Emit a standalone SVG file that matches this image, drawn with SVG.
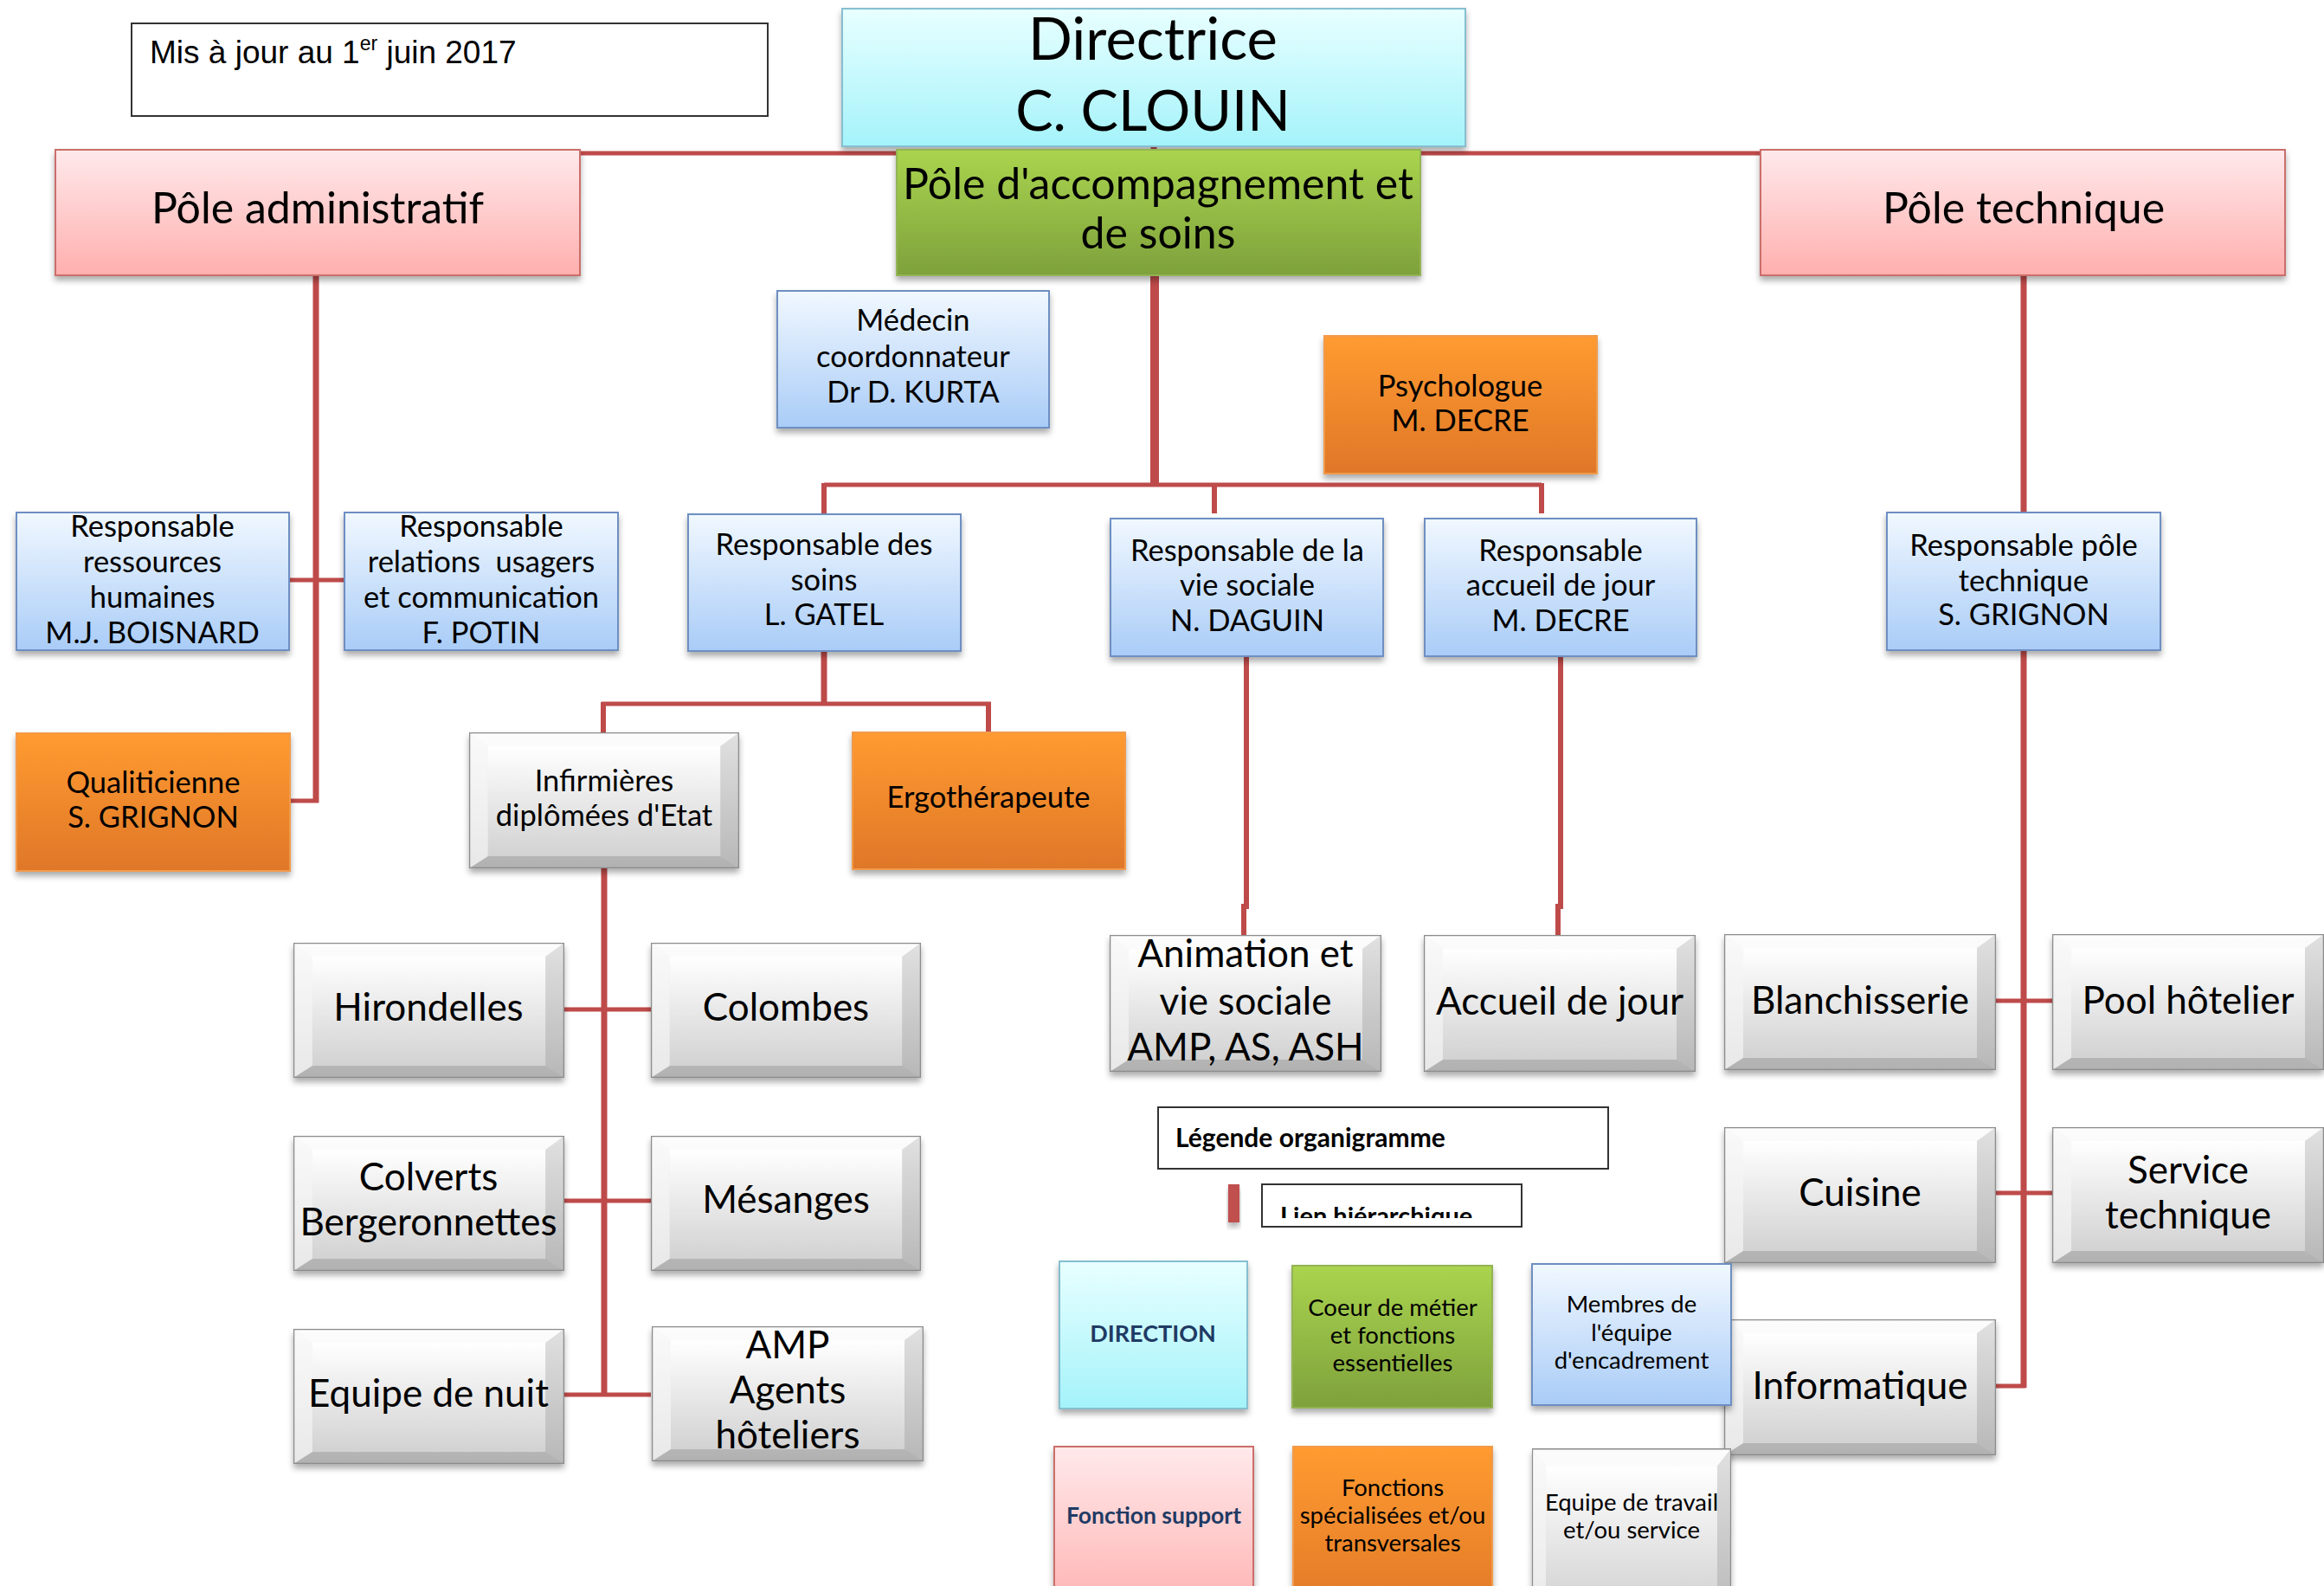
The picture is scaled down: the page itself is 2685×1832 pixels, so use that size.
<svg xmlns="http://www.w3.org/2000/svg" xmlns:xlink="http://www.w3.org/1999/xlink" width="2685" height="1832" viewBox="0 0 2685 1832">
<style>
.t{font-family:Lato,"Open Sans","Noto Sans",sans-serif;fill:#000;text-anchor:middle}
.l{text-anchor:start}
.b{font-weight:bold}
.f67{font-size:67px}
.f48{font-size:50px}
.f44{font-size:44px}
.f34{font-size:34.5px}
.f27{font-size:27.5px}
.f29{font-size:30px}
.navy{fill:#1F3A64}
.pink{fill:url(#gPink);stroke:#CC6E6B;stroke-width:2;filter:url(#sh)}
.cyan{fill:url(#gCyan);stroke:#86BFD0;stroke-width:2;filter:url(#sh)}
.green{fill:url(#gGreen);stroke:#93B455;stroke-width:2;filter:url(#sh)}
.blue{fill:url(#gBlue);stroke:#6E8FC2;stroke-width:2;filter:url(#sh)}
.orange{fill:url(#gOrange);stroke:#F29A48;stroke-width:2;filter:url(#sh)}
.plain{fill:#fff;stroke:#333;stroke-width:2}
.bev{filter:url(#sh)}
.h{fill:none;stroke:#BE4B4A;stroke-width:5}
.v{fill:none;stroke:#BE4B4A;stroke-width:7}
</style>
<defs>
<filter id="sh" x="-10%" y="-10%" width="120%" height="130%">
<feDropShadow dx="0" dy="5" stdDeviation="3.5" flood-color="#000" flood-opacity="0.33"/>
</filter>
<linearGradient id="gPink" x1="0" y1="0" x2="0" y2="1"><stop offset="0" stop-color="#FFE9EB"/><stop offset="1" stop-color="#FFAFAE"/></linearGradient>
<linearGradient id="gCyan" x1="0" y1="0" x2="0" y2="1"><stop offset="0" stop-color="#E8FFFF"/><stop offset="1" stop-color="#A4F3FA"/></linearGradient>
<linearGradient id="gGreen" x1="0" y1="0" x2="0" y2="1"><stop offset="0" stop-color="#AAD44E"/><stop offset="1" stop-color="#7EA13C"/></linearGradient>
<linearGradient id="gBlue" x1="0" y1="0" x2="0" y2="1"><stop offset="0" stop-color="#F1F8FF"/><stop offset="1" stop-color="#A9CCF7"/></linearGradient>
<linearGradient id="gOrange" x1="0" y1="0" x2="0" y2="1"><stop offset="0" stop-color="#FF9B30"/><stop offset="1" stop-color="#DF7729"/></linearGradient>
<linearGradient id="gFace" x1="0" y1="0" x2="0" y2="1"><stop offset="0" stop-color="#FFFFFF"/><stop offset="1" stop-color="#D2D2D2"/></linearGradient>
<linearGradient id="gOuter" x1="0" y1="0" x2="0" y2="1"><stop offset="0" stop-color="#F2F2F2"/><stop offset="1" stop-color="#C6C6C6"/></linearGradient>
<symbol id="bevel" viewBox="0 0 314 157" preserveAspectRatio="none">
<rect x="0" y="0" width="314" height="157" fill="url(#gOuter)"/>
<polygon points="0,0 314,0 292,16 22,16" fill="#FFFFFF" opacity="0.75"/>
<polygon points="0,0 22,16 22,143 0,157" fill="#FFFFFF" opacity="0.6"/>
<polygon points="314,0 292,16 292,143 314,157" fill="#000" opacity="0.07"/>
<polygon points="0,157 22,143 292,143 314,157" fill="#000" opacity="0.1"/>
<rect x="22" y="16" width="270" height="127" fill="url(#gFace)"/>
<rect x="0.5" y="0.5" width="313" height="156" fill="none" stroke="#8C8C8C" stroke-width="1.5" vector-effect="non-scaling-stroke"/>
</symbol>
<clipPath id="clipLien"><rect x="1458" y="1368" width="300" height="39"/></clipPath>
</defs>
<rect x="0" y="0" width="2685" height="1832" fill="#fff"/>

<g id="connectors">
<path class="h" d="M669 177 H2034"/>
<path class="v" d="M1333 169 V175"/>
<path class="v" style="stroke-width:10" d="M1334 318 V560"/>
<path class="h" d="M952 560 H1781"/>
<path class="v" style="stroke-width:6" d="M952 558 V594 M1403 558 V593 M1781 558 V593"/>
<path class="v" d="M365 318 V927"/>
<path class="h" d="M334 670 H398 M334 925 H368"/>
<path class="v" d="M952 752 V815"/>
<path class="h" d="M695 813 H1145"/>
<path class="v" style="stroke-width:6" d="M697 811 V846 M1142 811 V846"/>
<path class="v" d="M698 1003 V1613"/>
<path class="h" d="M652 1166 H752 M652 1387 H752 M652 1611 H752"/>
<path class="v" style="stroke-width:6" d="M1440 758 V1047 H1437 V1080 M1803 758 V1047 H1800 V1080"/>
<path class="v" d="M2338 318 V592 M2338 751 V1603"/>
<path class="h" d="M2306 1156 H2371 M2306 1378 H2371 M2306 1601 H2340"/>
</g>

<g id="note">
<rect class="plain" x="152" y="27" width="735" height="107"/>
<text x="173" y="73" style="font-family:'Liberation Sans',Arial,sans-serif;font-size:37px;fill:#000">Mis à jour au 1<tspan dy="-15" style="font-size:23px">er</tspan><tspan dy="15"> juin 2017</tspan></text>
</g>

<g id="directrice">
<rect class="cyan" x="973" y="10" width="720" height="159"/>
<text class="t f67" x="1332" y="69">Directrice</text>
<text class="t" x="1332" y="151" style="font-size:65px">C. CLOUIN</text>
</g>

<g id="pole-administratif">
<rect class="pink" x="64" y="173" width="606" height="145"/>
<text class="t f48" x="367" y="258">Pôle administratif</text>
</g>

<g id="pole-accompagnement">
<rect class="green" x="1036" y="173" width="605" height="145"/>
<text class="t f48" x="1338" y="230">Pôle d'accompagnement et</text>
<text class="t f48" x="1338" y="287">de soins</text>
</g>

<g id="pole-technique">
<rect class="pink" x="2034" y="173" width="606" height="145"/>
<text class="t f48" x="2338" y="258">Pôle technique</text>
</g>

<g id="medecin">
<rect class="blue" x="898" y="336" width="314" height="158"/>
<text class="t f34" x="1055" y="382">Médecin</text>
<text class="t f34" x="1055" y="424">coordonnateur</text>
<text class="t f34" x="1055" y="465">Dr D. KURTA</text>
</g>

<g id="psychologue">
<rect class="orange" x="1530" y="388" width="315" height="159"/>
<text class="t f34" x="1687" y="458">Psychologue</text>
<text class="t f34" x="1687" y="498">M. DECRE</text>
</g>

<g id="resp-rh">
<rect class="blue" x="19" y="592" width="315" height="159"/>
<text class="t f34" x="176" y="620">Responsable</text>
<text class="t f34" x="176" y="661">ressources</text>
<text class="t f34" x="176" y="702">humaines</text>
<text class="t f34" x="176" y="743">M.J. BOISNARD</text>
</g>

<g id="resp-relations">
<rect class="blue" x="398" y="592" width="316" height="159"/>
<text class="t f34" x="556" y="620">Responsable</text>
<text class="t f34" x="556" y="661" xml:space="preserve">relations  usagers</text>
<text class="t f34" x="556" y="702">et communication</text>
<text class="t f34" x="556" y="743">F. POTIN</text>
</g>

<g id="qualiticienne">
<rect class="orange" x="19" y="847" width="316" height="159"/>
<text class="t f34" x="177" y="916">Qualiticienne</text>
<text class="t f34" x="177" y="956">S. GRIGNON</text>
</g>

<g id="resp-soins">
<rect class="blue" x="795" y="594" width="315" height="158"/>
<text class="t f34" x="952" y="641">Responsable des</text>
<text class="t f34" x="952" y="682">soins</text>
<text class="t f34" x="952" y="722">L. GATEL</text>
</g>

<g id="resp-vie-sociale">
<rect class="blue" x="1283" y="599" width="315" height="159"/>
<text class="t f34" x="1441" y="648">Responsable de la</text>
<text class="t f34" x="1441" y="688">vie sociale</text>
<text class="t f34" x="1441" y="729">N. DAGUIN</text>
</g>

<g id="resp-accueil">
<rect class="blue" x="1646" y="599" width="314" height="159"/>
<text class="t f34" x="1803" y="648">Responsable</text>
<text class="t f34" x="1803" y="688">accueil de jour</text>
<text class="t f34" x="1803" y="729">M. DECRE</text>
</g>

<g id="resp-technique">
<rect class="blue" x="2180" y="592" width="316" height="159"/>
<text class="t f34" x="2338" y="642">Responsable pôle</text>
<text class="t f34" x="2338" y="683">technique</text>
<text class="t f34" x="2338" y="722">S. GRIGNON</text>
</g>

<g id="infirmieres">
<use class="bev" href="#bevel" x="542" y="846" width="312" height="157"/>
<text class="t f34" x="698" y="914">Infirmières</text>
<text class="t f34" x="698" y="954">diplômées d'Etat</text>
</g>

<g id="ergotherapeute">
<rect class="orange" x="985" y="846" width="315" height="158"/>
<text class="t f34" x="1142" y="933">Ergothérapeute</text>
</g>

<g id="hirondelles">
<use class="bev" href="#bevel" x="339" y="1089" width="313" height="156"/>
<text class="t f44" x="495" y="1179">Hirondelles</text>
</g>
<g id="colombes">
<use class="bev" href="#bevel" x="752" y="1089" width="312" height="156"/>
<text class="t f44" x="908" y="1179">Colombes</text>
</g>
<g id="colverts">
<use class="bev" href="#bevel" x="339" y="1312" width="313" height="156"/>
<text class="t f44" x="495" y="1375">Colverts</text>
<text class="t f44" x="495" y="1427">Bergeronnettes</text>
</g>
<g id="mesanges">
<use class="bev" href="#bevel" x="752" y="1312" width="312" height="156"/>
<text class="t f44" x="908" y="1401">Mésanges</text>
</g>
<g id="equipe-nuit">
<use class="bev" href="#bevel" x="339" y="1535" width="313" height="156"/>
<text class="t f44" x="495" y="1625">Equipe de nuit</text>
</g>
<g id="amp">
<use class="bev" href="#bevel" x="753" y="1532" width="314" height="156"/>
<text class="t f44" x="910" y="1569">AMP</text>
<text class="t f44" x="910" y="1621">Agents</text>
<text class="t f44" x="910" y="1673">hôteliers</text>
</g>
<g id="animation">
<use class="bev" href="#bevel" x="1282" y="1080" width="314" height="158"/>
<text class="t f44" x="1439" y="1117">Animation et</text>
<text class="t f44" x="1439" y="1172">vie sociale</text>
<text class="t f44" x="1439" y="1225">AMP, AS, ASH</text>
</g>
<g id="accueil-jour">
<use class="bev" href="#bevel" x="1645" y="1080" width="314" height="158"/>
<text class="t f44" x="1802" y="1172">Accueil de jour</text>
</g>
<g id="blanchisserie">
<use class="bev" href="#bevel" x="1992" y="1079" width="314" height="157"/>
<text class="t f44" x="2149" y="1171">Blanchisserie</text>
</g>
<g id="pool-hotelier">
<use class="bev" href="#bevel" x="2371" y="1079" width="314" height="157"/>
<text class="t f44" x="2528" y="1171">Pool hôtelier</text>
</g>
<g id="cuisine">
<use class="bev" href="#bevel" x="1992" y="1302" width="314" height="157"/>
<text class="t f44" x="2149" y="1393">Cuisine</text>
</g>
<g id="service-technique">
<use class="bev" href="#bevel" x="2371" y="1302" width="314" height="157"/>
<text class="t f44" x="2528" y="1367">Service</text>
<text class="t f44" x="2528" y="1419">technique</text>
</g>
<g id="informatique">
<use class="bev" href="#bevel" x="1992" y="1524" width="314" height="157"/>
<text class="t f44" x="2149" y="1616">Informatique</text>
</g>

<g id="legende">
<rect class="plain" x="1338" y="1279" width="520" height="71"/>
<text class="t l b f29" x="1358" y="1325">Légende organigramme</text>
</g>
<g id="legende-lien">
<rect x="1419" y="1368" width="13" height="44" fill="#C0504D" filter="url(#sh)"/>
<rect class="plain" x="1458" y="1368" width="300" height="49"/>
<text class="t l b" x="1479" y="1415" clip-path="url(#clipLien)" style="font-size:29px">Lien hiérarchique</text>
</g>
<g id="legende-direction">
<rect class="cyan" x="1224" y="1457" width="217" height="170"/>
<text class="t b navy" x="1332" y="1550" style="font-size:27px">DIRECTION</text>
</g>
<g id="legende-coeur">
<rect class="green" x="1493" y="1462" width="231" height="164"/>
<text class="t f27" x="1609" y="1520">Coeur de métier</text>
<text class="t f27" x="1609" y="1552">et fonctions</text>
<text class="t f27" x="1609" y="1584">essentielles</text>
</g>
<g id="legende-membres">
<rect class="blue" x="1770" y="1460" width="230" height="163"/>
<text class="t f27" x="1885" y="1516">Membres de</text>
<text class="t f27" x="1885" y="1549">l'équipe</text>
<text class="t f27" x="1885" y="1581">d'encadrement</text>
</g>
<g id="legende-support">
<rect class="pink" x="1218" y="1671" width="230" height="200"/>
<text class="t b navy" x="1333" y="1760" style="font-size:26.5px">Fonction support</text>
</g>
<g id="legende-specialisees">
<rect class="orange" x="1494" y="1671" width="230" height="200"/>
<text class="t f27" x="1609" y="1728">Fonctions</text>
<text class="t f27" x="1609" y="1760">spécialisées et/ou</text>
<text class="t f27" x="1609" y="1792">transversales</text>
</g>
<g id="legende-equipe">
<use class="bev" href="#bevel" x="1770" y="1673" width="230" height="200"/>
<text class="t f27" x="1885" y="1745">Equipe de travail</text>
<text class="t f27" x="1885" y="1777">et/ou service</text>
</g>
</svg>
